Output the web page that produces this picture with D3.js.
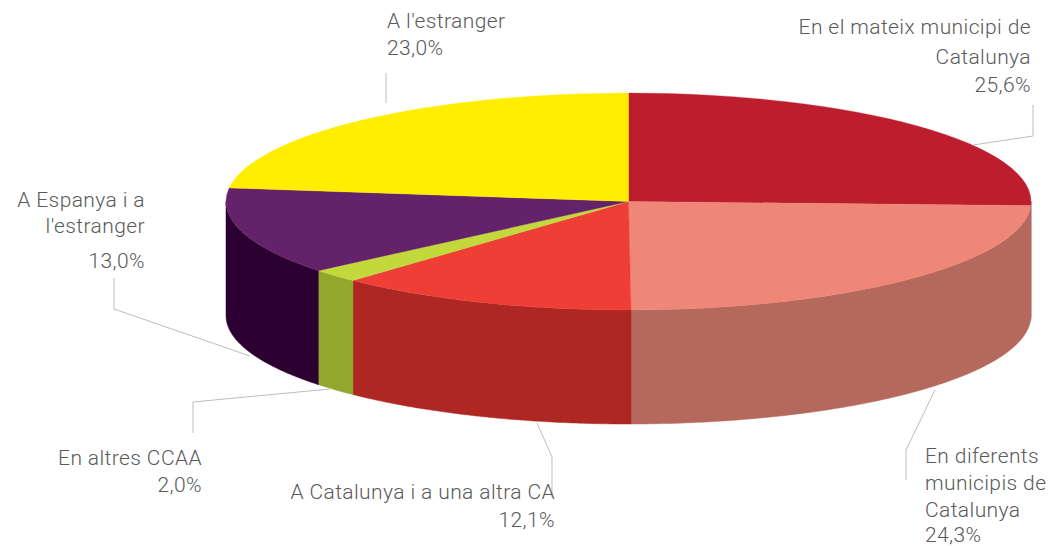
<!DOCTYPE html>
<html>
<head>
<meta charset="utf-8">
<script src="https://cdn.jsdelivr.net/npm/d3@7"></script>
<style>
  body { margin: 0; background: #fff; }
  svg { display: block; }
  text { font-family: Roboto, "Liberation Sans", sans-serif; font-weight: 300; font-size: 21px; letter-spacing: 0.4px; fill: #5a5a5a; }
</style>
</head>
<body>
<svg width="1050" height="546"></svg>
<script>
// slices, clockwise from 12 o'clock
const categories = [
  "En el mateix municipi de Catalunya",
  "En diferents municipis de Catalunya",
  "A Catalunya i a una altra CA",
  "En altres CCAA",
  "A Espanya i a l'estranger",
  "A l'estranger"
]
const values = [25.6, 24.3, 12.1, 2.0, 13.0, 23.0]
const valueLabels = ["25,6%", "24,3%", "12,1%", "2,0%", "13,0%", "23,0%"]

const topColors  = ["#bd1e2d", "#ee8777", "#ee3e36", "#c2d83b", "#64226a", "#ffee00"]
const sideColors = ["#8e1620", "#b5685c", "#ae2723", "#93a62e", "#2c0030", "#bfb200"]

// label layout (text lines, anchor, position, leader polyline)
const labelLayout = [
  {lines: ["En el mateix municipi de", "Catalunya", "25,6%"], anchor: "end", x: 1031, ys: [34, 64, 92],
   leader: [[1033, 105], [1033, 136], [973, 145]]},
  {lines: ["En diferents", "municipis de", "Catalunya", "24,3%"], anchor: "start", x: 925, ys: [463, 490, 517, 542],
   leader: [[906, 480], [906, 450], [935, 390]]},
  {lines: ["A Catalunya i a una altra CA", "12,1%"], anchor: "end", x: 555, ys: [499, 527],
   leader: [[552, 497], [552, 457], [537, 423]]},
  {lines: ["En altres CCAA", "2,0%"], anchor: "end", x: 202, ys: [465, 492],
   leader: [[193, 433], [193, 402], [330, 389]]},
  {lines: ["A Espanya i a", "l'estranger", "13,0%"], anchor: "end", x: 145, ys: [207, 233, 268],
   leader: [[114, 278], [114, 309], [250, 356]]},
  {lines: ["A l'estranger", "23,0%"], anchor: "start", x: 387, ys: [28, 55],
   leader: [[386, 73], [386, 103]]}
]

const cx = 628.5, cy = 201.5, rx = 402.5, ry = 108.5, depth = 114

const svg = d3.select("svg")

const pieData = d3.pie().sort(null).value(d => d)(values)

// point on the ellipse for angle a (0 = top, clockwise)
const px = a => cx + rx * Math.sin(a)
const py = (a, dy) => cy - ry * Math.cos(a) + dy

//side walls, only the front half is visible
const sideGroup = svg.append("g")
pieData.forEach((d, i) => {
  const s = Math.max(d.startAngle, Math.PI / 2)
  const e = Math.min(d.endAngle, 3 * Math.PI / 2)
  if (s >= e) return
  const n = Math.max(2, Math.ceil((e - s) / 0.01))
  const step = (e - s) / n
  const p = d3.path()
  p.moveTo(px(s), py(s, 0))
  for (let k = 1; k <= n; k++) p.lineTo(px(s + k * step), py(s + k * step, 0))
  for (let k = n; k >= 0; k--) p.lineTo(px(s + k * step), py(s + k * step, depth))
  p.closePath()
  sideGroup.append("path")
    .attr("d", p.toString())
    .attr("fill", sideColors[i])
    .attr("stroke", sideColors[i])
    .attr("stroke-width", 0.5)
})

//top face, a circle squashed to an ellipse
const arcGen = d3.arc().innerRadius(0).outerRadius(rx)
svg.append("g")
  .attr("transform", `translate(${cx},${cy}) scale(1,${ry / rx})`)
  .selectAll("path")
  .data(pieData)
  .enter()
  .append("path")
  .attr("d", arcGen)
  .attr("fill", (d, i) => topColors[i])
  .attr("stroke", (d, i) => topColors[i])
  .attr("stroke-width", 0.5)

//leader lines
svg.append("g")
  .selectAll("polyline")
  .data(labelLayout)
  .enter()
  .append("polyline")
  .attr("points", d => d.leader.map(p => p.join(",")).join(" "))
  .attr("fill", "none")
  .attr("stroke", "#bdbdbd")
  .attr("stroke-width", 1)

//labels
labelLayout.forEach((l, i) => {
  const t = svg.append("text").attr("text-anchor", l.anchor)
  l.lines.forEach((line, k) => {
    t.append("tspan").attr("x", l.x).attr("y", l.ys[k]).text(line)
  })
})
</script>
</body>
</html>
